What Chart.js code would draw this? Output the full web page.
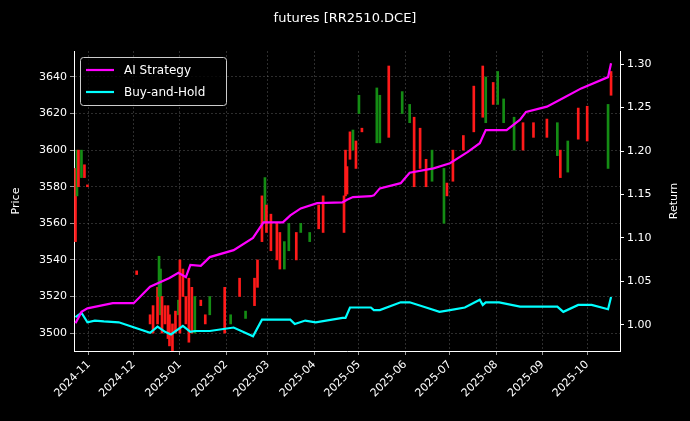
<!DOCTYPE html>
<html><head><meta charset="utf-8">
<script src="https://cdn.jsdelivr.net/npm/chart.js@4/dist/chart.umd.min.js"></script>
<style>html,body{margin:0;background:#000}#w{width:690px;height:421px}</style>
</head><body><div id="w"><canvas id="c"></canvas></div>
<script>
// days since 2024-10-22
const monthTickDays = [10,40,71,102,130,161,191,222,252,283,314,344];
const monthTickLabels = ["2024-11","2024-12","2025-01","2025-02","2025-03","2025-04","2025-05","2025-06","2025-07","2025-08","2025-09","2025-10"];
const candleDays = [1,2,3,5,7,9,42,51,53,56,57,58,59,61,63,64,66,68,70,71,73,75,77,79,81,85,88,91,101,105,111,115,121,123,126,128,129,132,136,138,141,144,149,152,158,164,167,181,182,183,185,187,189,191,193,203,205,211,220,225,228,232,236,240,248,250,254,261,268,274,276,281,284,288,295,301,308,317,324,326,331,338,344,358,360];
const candleLow = [3550,3575,3580,3585,3585,3580,3532,3505,3500,3505,3520,3510,3500,3505,3497,3493,3490,3500,3510,3500,3520,3505,3495,3500,3500,3515,3505,3510,3500,3505,3520,3508,3515,3525,3550,3560,3555,3545,3540,3535,3535,3545,3540,3555,3550,3557,3555,3555,3575,3576,3595,3600,3590,3620,3610,3604,3604,3607,3620,3615,3580,3590,3580,3583,3560,3575,3583,3600,3610,3618,3615,3625,3625,3615,3600,3600,3607,3607,3597,3585,3588,3606,3605,3590,3630];
const candleHigh = [3590,3600,3600,3600,3592,3581,3534,3510,3515,3525,3542,3535,3520,3515,3515,3510,3505,3512,3518,3540,3535,3520,3530,3525,3520,3518,3510,3520,3525,3510,3530,3512,3530,3540,3575,3585,3570,3565,3560,3555,3550,3560,3555,3560,3555,3570,3575,3575,3600,3591,3610,3611,3605,3630,3612,3634,3630,3646,3632,3625,3618,3612,3595,3600,3590,3582,3600,3608,3635,3646,3640,3637,3643,3628,3618,3615,3615,3617,3615,3600,3605,3623,3624,3625,3643];
const candleUp = [0,1,0,1,0,0,0,0,0,0,1,1,0,0,0,0,0,0,1,0,0,0,0,0,1,0,0,1,0,1,0,1,0,0,0,1,0,0,0,0,1,1,0,1,1,0,0,0,0,0,0,1,0,1,0,1,1,0,1,1,0,0,0,1,1,0,0,0,0,0,1,0,1,1,1,0,0,0,1,0,1,0,0,1,0];
const stratDays = [1,5,9,26,40,51,64,70,75,78,85,91,107,120,127,140,145,152,163,180,183,187,199,201,205,219,225,241,252,264,272,276,290,299,303,317,328,340,358,360];
const stratVals = [1.002,1.015,1.019,1.025,1.025,1.044,1.054,1.060,1.055,1.069,1.068,1.078,1.086,1.100,1.118,1.118,1.126,1.134,1.140,1.141,1.144,1.147,1.148,1.149,1.157,1.163,1.175,1.180,1.186,1.199,1.209,1.224,1.224,1.236,1.245,1.251,1.261,1.272,1.285,1.301];
const bhDays = [1,5,9,14,20,30,51,56,61,65,73,78,81,91,107,120,126,145,148,155,162,180,182,185,199,201,205,219,225,236,245,252,262,272,274,276,285,299,324,328,338,347,358,360];
const bhVals = [1.009,1.014,1.003,1.005,1.004,1.003,0.991,0.998,0.992,0.989,0.999,0.992,0.993,0.993,0.997,0.987,1.006,1.006,1.001,1.005,1.003,1.008,1.008,1.020,1.020,1.017,1.017,1.026,1.026,1.020,1.015,1.017,1.020,1.029,1.023,1.026,1.026,1.021,1.021,1.015,1.023,1.023,1.018,1.032];

const candleData = candleDays.map((d,i)=>({x:d,y:[candleLow[i],candleHigh[i]]}));
const candleColors = candleUp.map(u=>u?'#148c14':'#ff1a1a');
const strat = stratDays.map((d,i)=>({x:d,y:stratVals[i]}));
const bh = bhDays.map((d,i)=>({x:d,y:bhVals[i]}));
const F = 'DejaVu Sans';

const deco = {id:'deco', afterDraw(ch){
  const c=ch.ctx, a=ch.chartArea;
  c.save();
  c.fillStyle='#fff'; c.font='13px '+F; c.textAlign='center'; c.textBaseline='middle';
  c.fillText('futures [RR2510.DCE]',345,19);
  c.font='11px '+F;
  c.save(); c.translate(16,(a.top+a.bottom)/2); c.rotate(-Math.PI/2); c.fillText('Price',0,0); c.restore();
  c.save(); c.translate(674,(a.top+a.bottom)/2); c.rotate(-Math.PI/2); c.fillText('Return',0,0); c.restore();
  c.fillStyle='rgba(0,0,0,0.8)'; c.strokeStyle='#ccc'; c.lineWidth=1;
  const bx=a.left+6, by=a.top+6, bw=146, bh2=48;
  c.beginPath(); c.roundRect(bx+0.5,by+0.5,bw,bh2,3); c.fill(); c.stroke();
  const items=[['AI Strategy','#ff00ff'],['Buy-and-Hold','#00ffff']];
  c.font='12px '+F; c.textAlign='left';
  items.forEach((it,i)=>{const y=by+13+i*22;
    c.strokeStyle=it[1]; c.lineWidth=2.2; c.beginPath(); c.moveTo(bx+6,y); c.lineTo(bx+34,y); c.stroke();
    c.fillStyle='#fff'; c.fillText(it[0],bx+44,y+1);});
  c.restore();
}};

new Chart(document.getElementById('c'),{
  data:{datasets:[
    {type:'line',label:'AI Strategy',data:strat,yAxisID:'yR',borderColor:'#ff00ff',borderWidth:2.2,pointRadius:0,tension:0,order:1},
    {type:'line',label:'Buy-and-Hold',data:bh,yAxisID:'yR',borderColor:'#00ffff',borderWidth:2.2,pointRadius:0,tension:0,order:2},
    {type:'bar',label:'candles',data:candleData,yAxisID:'y',backgroundColor:candleColors,barThickness:2,grouped:false,order:3}
  ]},
  options:{responsive:true,maintainAspectRatio:false,animation:false,
    layout:{padding:{top:51,left:0,right:0,bottom:0}},
    plugins:{legend:{display:false},tooltip:{enabled:false}},
    scales:{
      x:{type:'linear',min:0,max:366,offset:false,
        afterBuildTicks(s){s.ticks=monthTickDays.map(v=>({value:v}));},
        afterFit(s){s.height=70;},
        ticks:{color:'#fff',font:{family:F,size:11},minRotation:45,maxRotation:45,autoSkip:false,
          callback:(v)=>monthTickLabels[monthTickDays.indexOf(v)]},
        grid:{offset:false,color:'rgba(150,150,150,0.5)',lineWidth:0.6,tickColor:'#fff',tickLength:4,drawOnChartArea:true},
        border:{color:'#fff',dash:[2,2]}},
      y:{position:'left',min:3490.2,max:3654.2,
        afterBuildTicks(s){s.ticks=[3500,3520,3540,3560,3580,3600,3620,3640].map(v=>({value:v}));},
        afterFit(s){s.width=74;},
        ticks:{color:'#fff',font:{family:F,size:11},callback:v=>String(v)},
        grid:{color:'rgba(150,150,150,0.5)',lineWidth:0.6,tickColor:'#fff',tickLength:4},
        border:{color:'#fff',dash:[2,2]}},
      yR:{position:'right',min:0.970,max:1.315,
        afterBuildTicks(s){s.ticks=[1.00,1.05,1.10,1.15,1.20,1.25,1.30].map(v=>({value:v}));},
        afterFit(s){s.width=70;},
        ticks:{color:'#fff',font:{family:F,size:11},callback:v=>v.toFixed(2)},
        grid:{drawOnChartArea:false,tickColor:'#fff',tickLength:4},
        border:{color:'#fff'}}
    }},
  plugins:[deco]
});
</script></body></html>
